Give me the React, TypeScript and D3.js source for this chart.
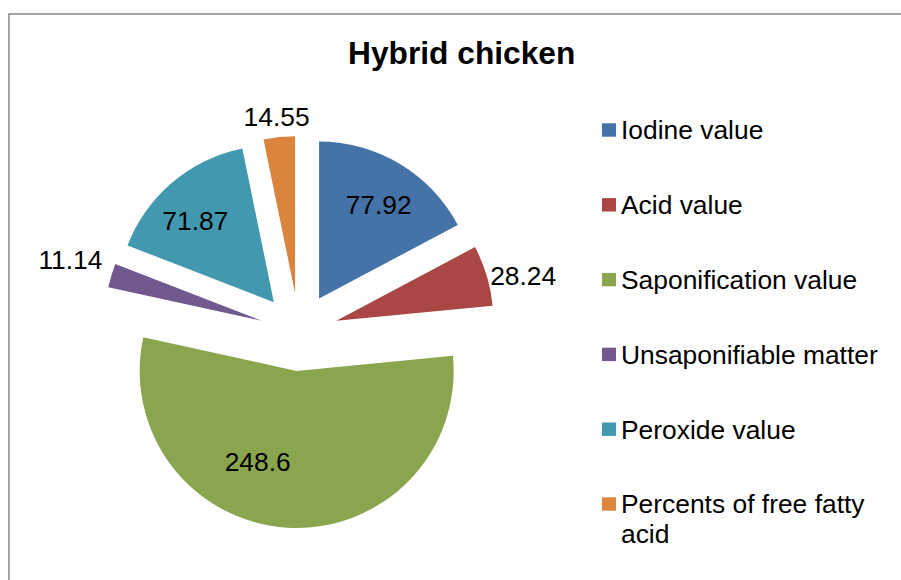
import React from "react";
import * as d3 from "d3";

const title = "Hybrid chicken";
const categories = [
  "Iodine value",
  "Acid value",
  "Saponification value",
  "Unsaponifiable matter",
  "Peroxide value",
  "Percents of free fatty acid",
];
const values = [77.92, 28.24, 248.6, 11.14, 71.87, 14.55];
const valueLabels = ["77.92", "28.24", "248.6", "11.14", "71.87", "14.55"];
const colors = ["#4572A7", "#AA4643", "#89A54E", "#71588F", "#4198AF", "#DB843D"];
// label placement (style): radius factor relative to pie radius, angular offset in degrees
const labelRadius = [0.71, 1.225, 0.63, 1.28, 0.72, 1.13];
const labelAngleOffset = [1.3, 3, 19.8, 1.1, -3.8, -0.2];

const W = 901;
const H = 580;
const cx = 299;
const cy = 332;
const R = 157;
const explode = 39;
const FONT = "'Liberation Sans', Arial, sans-serif";
const FS = 26.4;

export default function App() {
  const pie = d3.pie<number>().sort(null).value((d) => d)(values);
  const arc = d3.arc<d3.PieArcDatum<number>>().innerRadius(0).outerRadius(R);

  const legendLines: string[][] = [
    ["Iodine value"],
    ["Acid value"],
    ["Saponification value"],
    ["Unsaponifiable matter"],
    ["Peroxide value"],
    ["Percents of free fatty", "acid"],
  ];

  return (
    <svg
      width={W}
      height={H}
      style={{ position: "absolute", left: 0, top: 0, background: "#fff" }}
      fontFamily={FONT}
    >
      <rect x={0} y={0} width={W} height={H} fill="#fff" />
      <rect x={9} y={14} width={W + 50} height={H + 50} fill="none" stroke="#868686" strokeWidth={1.5} />
      <text x={461.7} y={64.3} textAnchor="middle" fontSize={31.7} fontWeight="bold" fill="#000">
        {title}
      </text>
      {pie.map((p, i) => {
        const mid = (p.startAngle + p.endAngle) / 2;
        const ox = cx + explode * Math.sin(mid);
        const oy = cy - explode * Math.cos(mid);
        const la = mid + (labelAngleOffset[i] * Math.PI) / 180;
        const lr = labelRadius[i] * R;
        const lx = lr * Math.sin(la);
        const ly = -lr * Math.cos(la);
        return (
          <g key={i} transform={`translate(${ox},${oy})`}>
            <path d={arc(p) || ""} fill={colors[i]} />
            <text x={lx} y={ly + FS * 0.36} textAnchor="middle" fontSize={FS} fill="#000">
              {valueLabels[i]}
            </text>
          </g>
        );
      })}
      {categories.map((c, i) => {
        const by = 139.3 + i * 74.8;
        return (
          <g key={c}>
            <rect x={602} y={by - 16} width={14} height={13.4} fill={colors[i]} />
            {legendLines[i].map((t, j) => (
              <text key={j} x={621} y={by + j * 30} fontSize={FS} fill="#000">
                {t}
              </text>
            ))}
          </g>
        );
      })}
    </svg>
  );
}
